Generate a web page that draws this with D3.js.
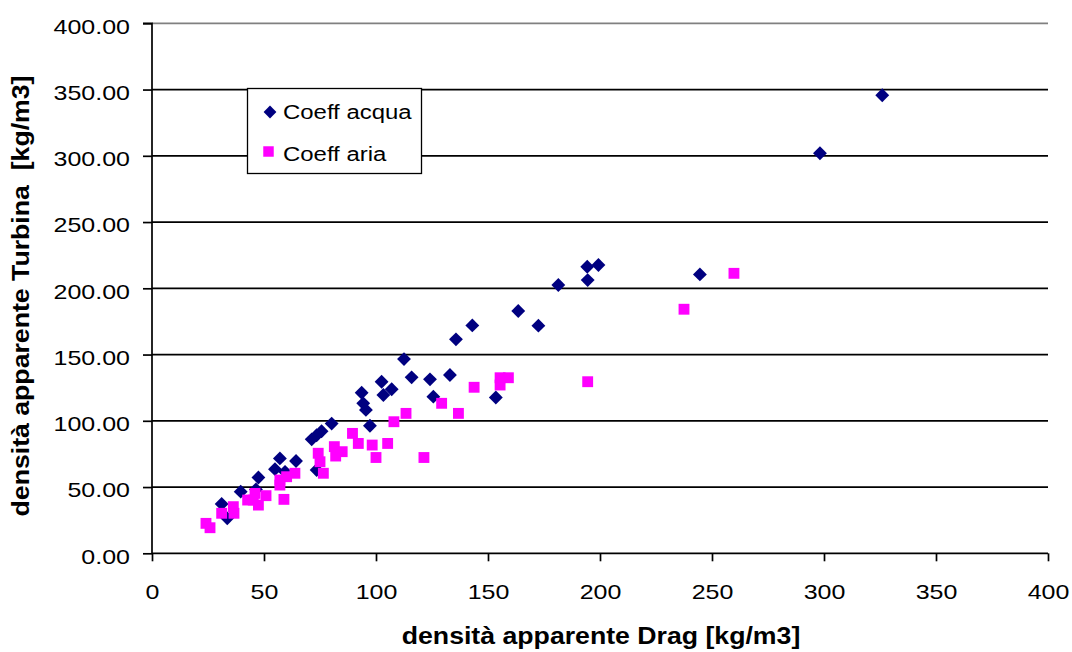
<!DOCTYPE html>
<html><head><meta charset="utf-8">
<script src="https://cdn.jsdelivr.net/npm/d3@7"></script>
<style>
html,body{margin:0;padding:0;background:#fff;}
text{font-family:"Liberation Sans",Arial,sans-serif;}
</style>
</head><body>
<svg id="chart" width="1072" height="652"></svg>
<script>
const acquaX = [326, 298.2, 244.6, 194.3, 199.3, 194.5, 181.4, 163.5, 172.5, 153.5, 143, 135.7, 112.5, 102.5, 107, 103.3, 115.9, 124.1, 133, 125.6, 93.6, 94.3, 95.5, 97.3, 80.2, 75.7, 73.5, 71.3, 64.3, 73.5, 57.1, 54.9, 59.4, 47.5, 46.4, 39.6, 31.1, 33.6];
const acquaY = [345.7, 301.9, 210.5, 216.3, 217.6, 206.2, 202.5, 182.9, 171.8, 117.6, 172, 161.5, 146.6, 129.5, 123.8, 119.5, 132.8, 131.3, 134.6, 118.2, 121.2, 113.2, 108.2, 96.3, 97.9, 92.1, 89.1, 86, 69.7, 62.9, 71.6, 63.5, 61.5, 57.2, 48.2, 46.5, 37.2, 26.4];
const ariaX = [259.8, 237.5, 155.4, 159.1, 155.4, 194.5, 143.8, 129.3, 136.8, 113.4, 108, 89.5, 92.1, 98.3, 105.2, 100, 121.4, 81.4, 84.9, 82, 74.2, 75, 76.5, 63.8, 57.1, 60.1, 57.1, 58.9, 50.9, 46, 45.2, 47.5, 42.7, 36.3, 36.6, 31.1, 24.1, 25.9];
const ariaY = [211.3, 184.2, 132.5, 132.5, 127, 129.5, 125.3, 113.2, 105.6, 105.6, 99.3, 90.5, 82.9, 81.7, 82.9, 72.3, 72.3, 80.5, 76.7, 73.4, 75.5, 69.1, 60.4, 60.4, 55.3, 57.8, 51.5, 40.7, 43.5, 45.2, 40.2, 36.4, 40.2, 35.2, 30.2, 30.2, 22.6, 19.3];
const xTicks = [0, 50, 100, 150, 200, 250, 300, 350, 400];
const yTicks = [0, 50, 100, 150, 200, 250, 300, 350, 400];
const seriesNames = ["Coeff acqua", "Coeff aria"];
const xTitle = "densità apparente Drag [kg/m3]";
const yTitle = "densità apparente Turbina  [kg/m3]";

const svg = d3.select("#chart");
const x = d3.scaleLinear().domain([0, 400]).range([152, 1048]);
const y = d3.scaleLinear().domain([0, 400]).range([553.3, 23.3]);
const SX = 1.19;

// gridlines
svg.append("g").selectAll("line").data(yTicks.filter(d => d > 0)).join("line")
  .attr("x1", x(0)).attr("x2", x(400))
  .attr("y1", d => y(d)).attr("y2", d => y(d))
  .attr("stroke", d => d === 400 ? "#808080" : "#000").attr("stroke-width", 1.7);

// y axis
const ya = svg.append("g").attr("transform", `translate(${x(0)},0)`)
  .call(d3.axisLeft(y).tickValues(yTicks).tickFormat(d3.format(".2f")).tickSize(9).tickPadding(12));
ya.select(".domain").attr("stroke", "#000").attr("stroke-width", 1.7).attr("d", `M-9,${y(400)}H0V${y(0)}`);
ya.selectAll(".tick line").attr("stroke", "#000").attr("stroke-width", 1.7);
ya.selectAll(".tick text").attr("font-size", 21).attr("fill", "#000")
  .attr("font-family", "Liberation Sans, Arial, sans-serif")
  .attr("x", 0).attr("dy", "0.47em").attr("transform", `translate(-22,0) scale(${SX},1)`);

// x axis
const xa = svg.append("g").attr("transform", `translate(0,${y(0)})`)
  .call(d3.axisBottom(x).tickValues(xTicks).tickFormat(d3.format("d")).tickSize(8).tickPadding(23));
xa.select(".domain").attr("stroke", "#000").attr("stroke-width", 1.7).attr("d", `M${x(0)},0H${x(400)}`);
xa.selectAll(".tick line").attr("stroke", "#000").attr("stroke-width", 1.7);
xa.selectAll(".tick text").attr("font-size", 21).attr("fill", "#000")
  .attr("font-family", "Liberation Sans, Arial, sans-serif")
  .attr("transform", `scale(${SX},1)`);

// points
const acqua = acquaX.map((v, i) => ({x: v, y: acquaY[i]}));
const aria = ariaX.map((v, i) => ({x: v, y: ariaY[i]}));
const diamond = d3.symbol().type(d3.symbolSquare).size(96)();
const square = d3.symbol().type(d3.symbolSquare).size(118)();

svg.append("g").selectAll("path").data(acqua).join("path")
  .attr("d", diamond)
  .attr("transform", d => `translate(${x(d.x)},${y(d.y)}) rotate(45)`)
  .attr("fill", "#000080");
svg.append("g").selectAll("path").data(aria).join("path")
  .attr("d", square)
  .attr("transform", d => `translate(${x(d.x)},${y(d.y)})`)
  .attr("fill", "#FF00FF");

// legend
const lg = svg.append("g");
lg.append("rect").attr("x", 247.5).attr("y", 88.5).attr("width", 174).attr("height", 85)
  .attr("fill", "#fff").attr("stroke", "#000").attr("stroke-width", 1.3);
lg.append("path").attr("d", d3.symbol().type(d3.symbolSquare).size(82)())
  .attr("transform", "translate(270,112) rotate(45)").attr("fill", "#000080");
lg.append("path").attr("d", d3.symbol().type(d3.symbolSquare).size(110)())
  .attr("transform", "translate(268.5,151.5)").attr("fill", "#FF00FF");
lg.append("text").attr("transform", "translate(283,119) scale(1.14,1)").attr("font-size", 21).text(seriesNames[0]);
lg.append("text").attr("transform", "translate(283,161) scale(1.14,1)").attr("font-size", 21).text(seriesNames[1]);

// titles
svg.append("text").attr("transform", "translate(601,644) scale(1.16,1)").attr("text-anchor", "middle")
  .attr("font-size", 23).attr("font-weight", "bold").text(xTitle);
svg.append("text").attr("transform", "translate(28.5,296) rotate(-90) scale(1.16,1)").attr("text-anchor", "middle")
  .attr("font-size", 23).attr("font-weight", "bold").style("white-space", "pre").attr("xml:space", "preserve").text(yTitle);
</script>
</body></html>
